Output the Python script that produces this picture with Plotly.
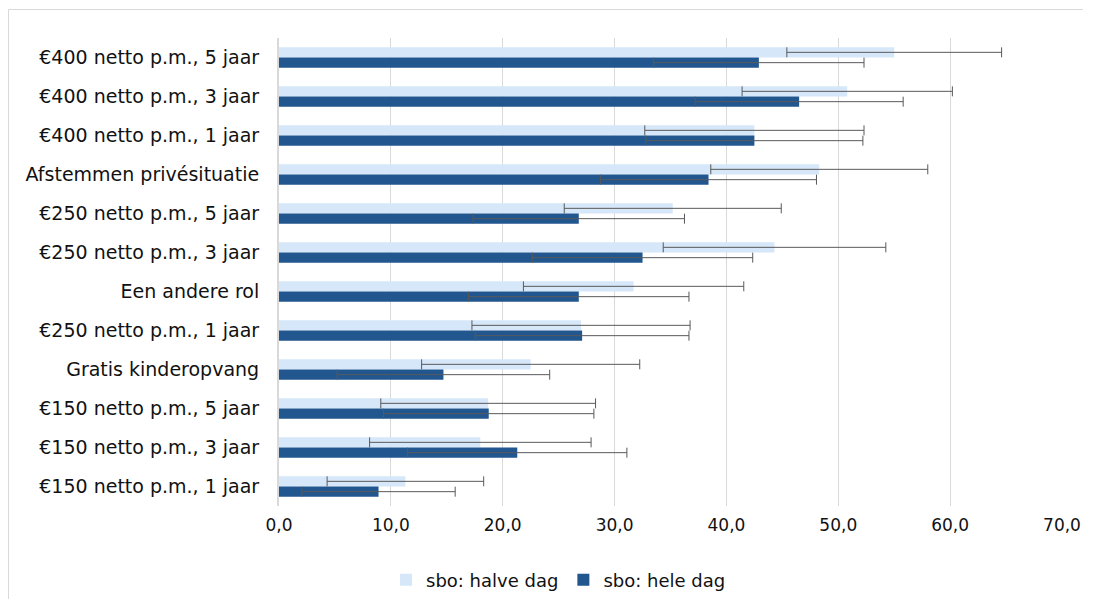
import plotly.graph_objects as go

categories = [
    "€400 netto p.m., 5 jaar",
    "€400 netto p.m., 3 jaar",
    "€400 netto p.m., 1 jaar",
    "Afstemmen privésituatie",
    "€250 netto p.m., 5 jaar",
    "€250 netto p.m., 3 jaar",
    "Een andere rol",
    "€250 netto p.m., 1 jaar",
    "Gratis kinderopvang",
    "€150 netto p.m., 5 jaar",
    "€150 netto p.m., 3 jaar",
    "€150 netto p.m., 1 jaar",
]
halve_dag = [55.0, 50.8, 42.5, 48.3, 35.2, 44.3, 31.7, 27.0, 22.5, 18.7, 18.0, 11.3]
halve_dag_err = [9.6, 9.4, 9.8, 9.7, 9.7, 9.95, 9.85, 9.75, 9.75, 9.6, 9.9, 7.0]
hele_dag = [42.9, 46.5, 42.5, 38.4, 26.8, 32.5, 26.8, 27.1, 14.7, 18.75, 21.3, 8.9]
hele_dag_err = [9.4, 9.3, 9.7, 9.65, 9.45, 9.85, 9.85, 9.55, 9.5, 9.4, 9.8, 6.85]
series_names = ["sbo: halve dag", "sbo: hele dag"]

FONT = "DejaVu Sans"
TXT = "#111111"
ERR = dict(type="data", symmetric=True, color="#595959", thickness=1, width=5)

fig = go.Figure()
fig.add_trace(go.Bar(
    y=categories, x=halve_dag, orientation="h", name=series_names[0],
    marker=dict(color="#D6E7FA", line=dict(width=0)),
    error_x=dict(array=halve_dag_err, **ERR),
))
fig.add_trace(go.Bar(
    y=categories, x=hele_dag, orientation="h", name=series_names[1],
    marker=dict(color="#21568F", line=dict(width=0)),
    error_x=dict(array=hele_dag_err, **ERR),
))

# page has an 8px body margin; figure coords = page coords - 8
OFF = 8
W, H = 1075, 591
L, T = 279 - OFF, 38 - OFF
R = W - (1062 - OFF)
B = H - (506 - OFF)
pw = W - L - R
ph = H - T - B

def px_x(x):  # page x -> paper
    return (x - OFF - L) / pw

def px_y(y):  # page y -> paper
    return (H - B - (y - OFF)) / ph

BORDER = dict(color="#D9D9D9", width=1)
fig.update_layout(
    width=W, height=H,
    margin=dict(l=L, r=R, t=T, b=B, autoexpand=False),
    paper_bgcolor="white", plot_bgcolor="white",
    barmode="group", bargap=0.47, bargroupgap=0,
    separators=", ",
    font=dict(family=FONT, size=17, color=TXT),
    showlegend=True,
    legend=dict(orientation="h", x=px_x(386), xanchor="left", y=px_y(580), yanchor="middle",
                font=dict(family=FONT, size=18, color=TXT),
                itemwidth=30, tracegroupgap=0, traceorder="normal"),
    xaxis=dict(range=[0, 70], dtick=10, tickformat=".1f", showgrid=True,
               gridcolor="#D9D9D9", gridwidth=1, zeroline=False, showline=False,
               ticks="", ticklabelstandoff=7, fixedrange=True,
               tickfont=dict(family=FONT, size=17, color=TXT)),
    yaxis=dict(autorange="reversed", showgrid=False, showline=True, linecolor="#D9D9D9",
               linewidth=2, ticks="", ticklabelstandoff=14, fixedrange=True,
               tickfont=dict(family=FONT, size=19, color=TXT)),
    shapes=[
        dict(type="line", xref="paper", yref="paper",
             x0=px_x(8.5), x1=px_x(1200), y0=px_y(9.5), y1=px_y(9.5), line=BORDER, layer="below"),
        dict(type="line", xref="paper", yref="paper",
             x0=px_x(8.5), x1=px_x(8.5), y0=px_y(9.5), y1=px_y(700), line=BORDER, layer="below"),
    ],
)

fig.write_html("out.html")
